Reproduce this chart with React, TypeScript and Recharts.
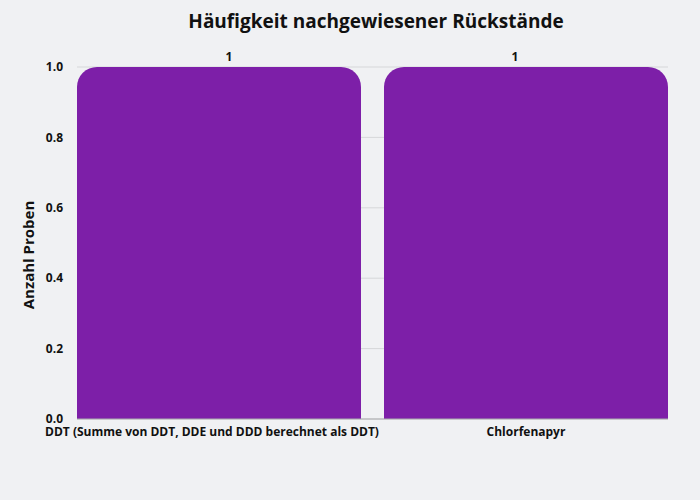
import React from 'react';
import { BarChart, Bar, XAxis, YAxis, CartesianGrid, LabelList } from 'recharts';

const categories = ['DDT (Summe von DDT, DDE und DDD berechnet als DDT)', 'Chlorfenapyr'];
const counts = [1, 1];
const yTicks = [0, 0.2, 0.4, 0.6, 0.8, 1.0];
const title = 'Häufigkeit nachgewiesener Rückstände';
const yLabel = 'Anzahl Proben';

const data = categories.map((c, i) => ({ name: c, value: counts[i] }));

const FONT = '"Open Sans", sans-serif';
const BG = '#f0f1f3';
const BAR = '#7d1fa8';
const valueLabelShift = [10, -11];
const tickShift = [-7, 0];

const YLabel = (props: any) => {
  const vb = props.viewBox || {};
  const cx = 28;
  const cy = vb.y + vb.height / 2 + 12;
  return (
    <text
      x={cx}
      y={cy}
      transform={`rotate(-90, ${cx}, ${cy})`}
      textAnchor="middle"
      dominantBaseline="central"
      fontFamily={FONT}
      fontWeight={700}
      fontSize={15}
      fill="#111"
    >
      {yLabel}
    </text>
  );
};

const XTick = (props: any) => {
  const { x, y, payload, index } = props;
  return (
    <text
      x={x + (tickShift[index] || 0)}
      y={y + 9}
      textAnchor="middle"
      fontFamily={FONT}
      fontWeight={700}
      fontSize={12}
      fill="#111"
    >
      {payload.value}
    </text>
  );
};

const ValueLabel = (props: any) => {
  const { x, y, width, value, index } = props;
  return (
    <text
      x={x + width / 2 + (valueLabelShift[index] || 0)}
      y={y - 6}
      textAnchor="middle"
      fontFamily={FONT}
      fontWeight={700}
      fontSize={12}
      fill="#111"
    >
      {value}
    </text>
  );
};

export default function App() {
  return (
    <div style={{ position: 'absolute', left: 0, top: 0, width: 700, height: 500, background: BG }}>
      <div
        style={{
          position: 'absolute',
          top: 8,
          left: 0,
          width: 752,
          textAlign: 'center',
          fontFamily: FONT,
          fontWeight: 700,
          fontSize: 19,
          color: '#111',
        }}
      >
        {title}
      </div>
      <BarChart
        width={700}
        height={500}
        data={data}
        margin={{ top: 67, right: 32, left: 0, bottom: 0 }}
        barCategoryGap={11.5}
      >
        <CartesianGrid horizontal vertical={false} stroke="#d6d7d9" />
        <XAxis
          dataKey="name"
          height={81}
          padding={{ left: -11.5, right: -11.5 }}
          tickLine={false}
          axisLine={{ stroke: '#a9aaac' }}
          interval={0}
          tick={<XTick />}
        />
        <YAxis
          width={77}
          domain={[0, 1]}
          ticks={yTicks}
          tickFormatter={(v: number) => v.toFixed(1)}
          tickLine={false}
          axisLine={false}
          tickMargin={8}
          tick={{ fontFamily: FONT, fontWeight: 700, fontSize: 12, fill: '#111' }}
          label={<YLabel />}
        />
        <Bar dataKey="value" fill={BAR} radius={[20, 20, 0, 0]} isAnimationActive={false}>
          <LabelList dataKey="value" content={<ValueLabel />} />
        </Bar>
      </BarChart>
    </div>
  );
}
